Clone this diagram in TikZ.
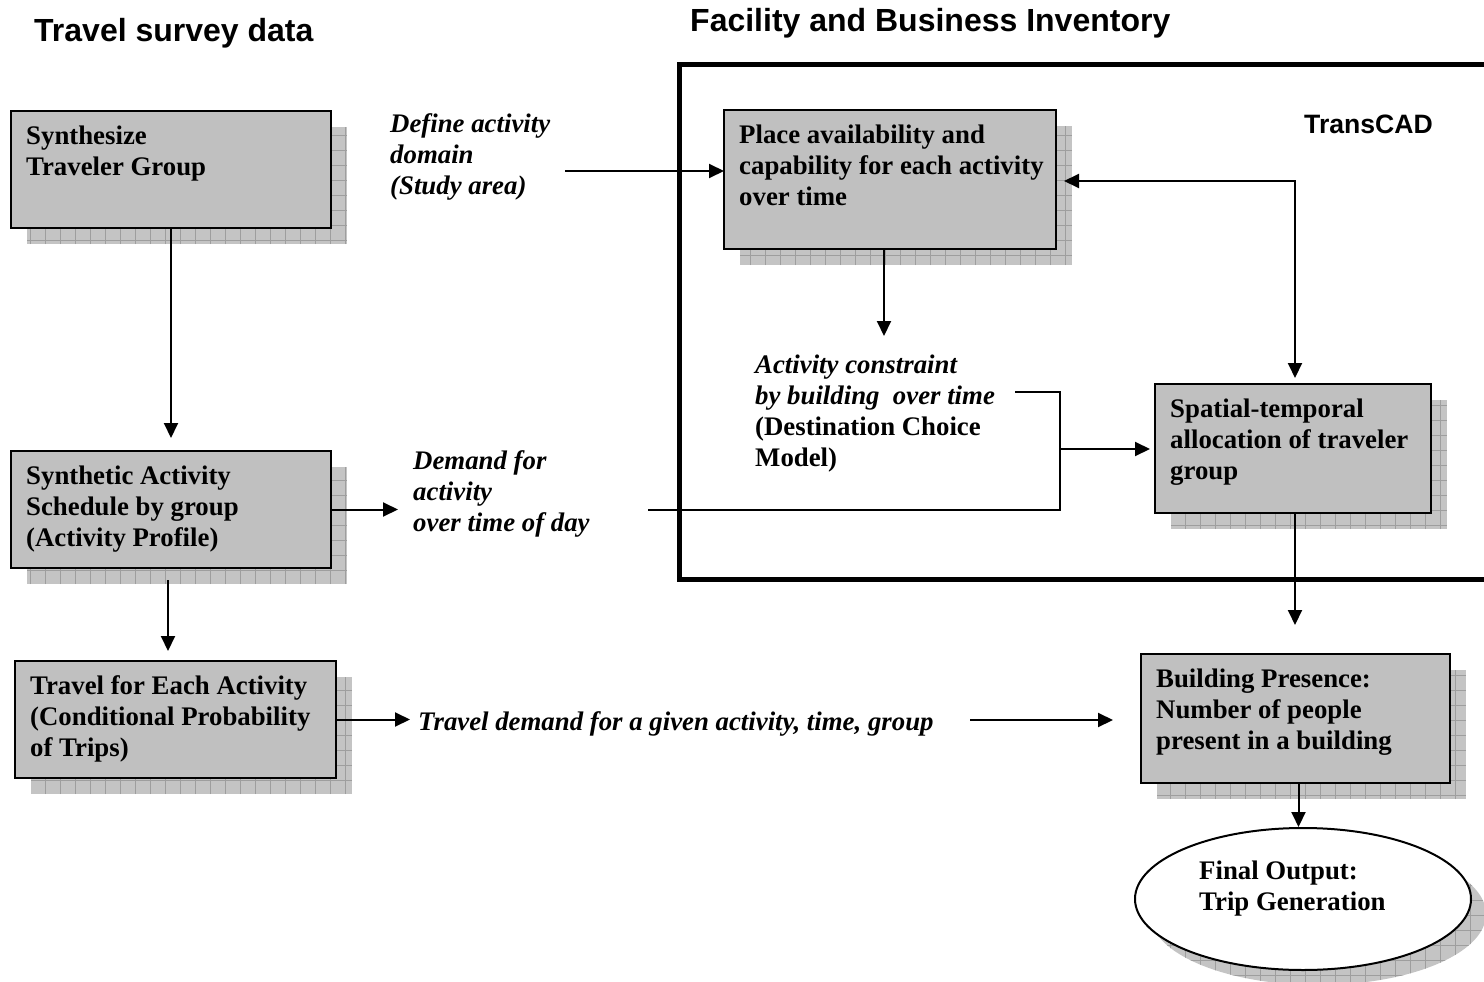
\documentclass[tikz,border=0pt]{standalone}
\usepackage{fontspec}
\setmainfont{Liberation Serif}
\newfontfamily\headfont{Liberation Sans}
\usetikzlibrary{arrows.meta,calc,shapes.geometric}
\pgfdeclarelayer{shadowlayer}
\pgfsetlayers{shadowlayer,main}

\definecolor{boxgray}{RGB}{192,192,192}
\definecolor{shadegray}{RGB}{196,196,196}
\definecolor{shadeline}{RGB}{158,158,158}

% strut fixing the top of every text block 24pt above its first baseline
\newcommand\topstrut{\rule{0pt}{24pt}}

% gridded drop shadow behind a rectangular node
\newcommand\gridshade[1]{%
  \begin{pgfonlayer}{shadowlayer}
    \begin{scope}
      \clip ($(#1.south west)+(16,16)$) rectangle ($(#1.north east)+(16,16)$);
      \fill[shadegray] ($(#1.south west)+(16,16)$) rectangle ($(#1.north east)+(16,16)$);
      \draw[shadeline, line width=0.8pt, step=15pt]
        ($(#1.south west)+(16,16)$) grid ($(#1.north east)+(16,16)$);
    \end{scope}
  \end{pgfonlayer}}

\tikzset{
  procbox/.style={draw=black, line width=2.4pt, fill=boxgray, inner sep=0pt,
    outer sep=0pt, anchor=north west},
  boxtext/.style={anchor=north west, inner sep=0pt, align=left,
    font=\bfseries\fontsize{26.8}{31}\selectfont},
  notetext/.style={boxtext, font=\bfseries\itshape\fontsize{26.8}{31}\selectfont},
  headtext/.style={anchor=base west, inner sep=0pt,
    font=\headfont\bfseries\fontsize{32}{36}\selectfont},
  conn/.style={line width=2pt},
  arr/.style={conn, -{Triangle[length=15pt,width=14pt]}},
  biarr/.style={conn, {Triangle[length=15pt,width=14pt]}-{Triangle[length=15pt,width=14pt]}},
}

\begin{document}
\begin{tikzpicture}[x=1pt,y=-1pt]
\useasboundingbox (0,0) rectangle (1484,982);
\clip (0,0) rectangle (1484,982);

% headings
\node[headtext] (head1) at (34,42) {Travel survey data};
\node[headtext] (head2) at (690,32) {Facility and Business Inventory};
\node[headtext, font=\headfont\bfseries\fontsize{26.6}{30}\selectfont] (head3) at (1304,133) {TransCAD};

% TransCAD frame
\draw[line width=5pt] (1495,65) -- (679,65) -- (679,579) -- (1495,579);

% process boxes
\node[procbox, minimum width=320pt, minimum height=117pt] (synth) at (11,111) {};
\gridshade{synth}
\node[boxtext] (synthT) at ($(synth.north west)+(15,9)$)
  {\topstrut Synthesize\\Traveler Group};

\node[procbox, minimum width=320pt, minimum height=117pt] (sched) at (11,451) {};
\gridshade{sched}
\node[boxtext] (schedT) at ($(sched.north west)+(15,9)$)
  {\topstrut Synthetic Activity\\Schedule by group\\(Activity Profile)};

\node[procbox, minimum width=321pt, minimum height=117pt] (trav) at (15,661) {};
\gridshade{trav}
\node[boxtext] (travT) at ($(trav.north west)+(15,9)$)
  {\topstrut Travel for Each Activity\\(Conditional Probability\\of Trips)};

\node[procbox, minimum width=332pt, minimum height=139pt] (place) at (724,110) {};
\gridshade{place}
\node[boxtext] (placeT) at ($(place.north west)+(15,9)$)
  {\topstrut Place availability and\\capability for each activity\\over time};

\node[procbox, minimum width=276pt, minimum height=129pt] (alloc) at (1155,384) {};
\gridshade{alloc}
\node[boxtext] (allocT) at ($(alloc.north west)+(15,9)$)
  {\topstrut Spatial-temporal\\allocation of traveler\\group};

\node[procbox, minimum width=309pt, minimum height=129pt] (pres) at (1141,654) {};
\gridshade{pres}
\node[boxtext] (presT) at ($(pres.north west)+(15,9)$)
  {\topstrut Building Presence:\\Number of people\\present in a building};

% final output ellipse with its gridded shadow
\node[ellipse, draw=black, line width=2pt, fill=white, minimum width=336pt,
      minimum height=142pt, inner sep=0pt] (final) at (1303,899) {};
\begin{pgfonlayer}{shadowlayer}
  \begin{scope}
    \clip ($(final.center)+(15,15)$) ellipse [x radius=168pt, y radius=71pt];
    \fill[shadegray] (1100,800) rectangle (1500,990);
    \draw[shadeline, line width=0.8pt, step=15pt] (1100,990) grid (1500,800);
  \end{scope}
\end{pgfonlayer}
\node[boxtext] (finalT) at (1199,855) {\topstrut Final Output:\\Trip Generation};

% free labels
\node[notetext] (defn) at (390,108)
  {\topstrut Define activity\\domain\\(Study area)};
\node[notetext] (demand) at (413,445)
  {\topstrut Demand for\\activity\\over time of day};
\node[notetext] (constr) at (755,349)
  {\topstrut Activity constraint\\by building\ \ over time\\{\upshape(Destination Choice}\\{\upshape Model)}};
\node[notetext] (tdem) at (418,706)
  {\topstrut Travel demand for a given activity, time, group};

% connector end points
\coordinate (defstart) at (565,171);
\coordinate (ctip) at (884,336);
\coordinate (cstart) at (1015,392);
\coordinate (cjoin) at (1060,449);
\coordinate (dend) at (648,510);
\coordinate (tstart) at (970,720);

% connectors
\draw[arr, shorten >=13pt] (synth.south) -- (synth.south |- sched.north);
\draw[arr, shorten >=15pt] (sched.east) -- (sched.east -| demand.west);
\draw[arr, shorten >=10pt] ([xshift=-3pt,yshift=-12pt]sched.south) -- ([xshift=-3pt]sched.south |- trav.north);
\draw[arr, shorten >=8pt] (trav.east) -- (trav.east -| tdem.west);
\draw[arr, shorten >=28pt] (tstart) -- (tstart -| pres.west);
\draw[arr] (defstart) -- (defstart -| place.west);
\draw[arr] (place.south -| ctip) -- (ctip);
\draw[biarr, shorten <=8pt, shorten >=6pt] ([yshift=-1.5pt]place.east) -| ([xshift=2pt]alloc.north);
\draw[conn] (cstart) -| (cjoin) |- (dend);
\draw[arr, shorten >=5pt] (cjoin) -- (cjoin -| alloc.west);
\draw[arr, shorten >=29pt] ([xshift=2pt]alloc.south) -- ([xshift=2pt]alloc.south |- pres.north);
\draw[arr] ([xshift=3pt]pres.south) -- ([xshift=3pt]pres.south |- final.north);
\end{tikzpicture}
\end{document}
